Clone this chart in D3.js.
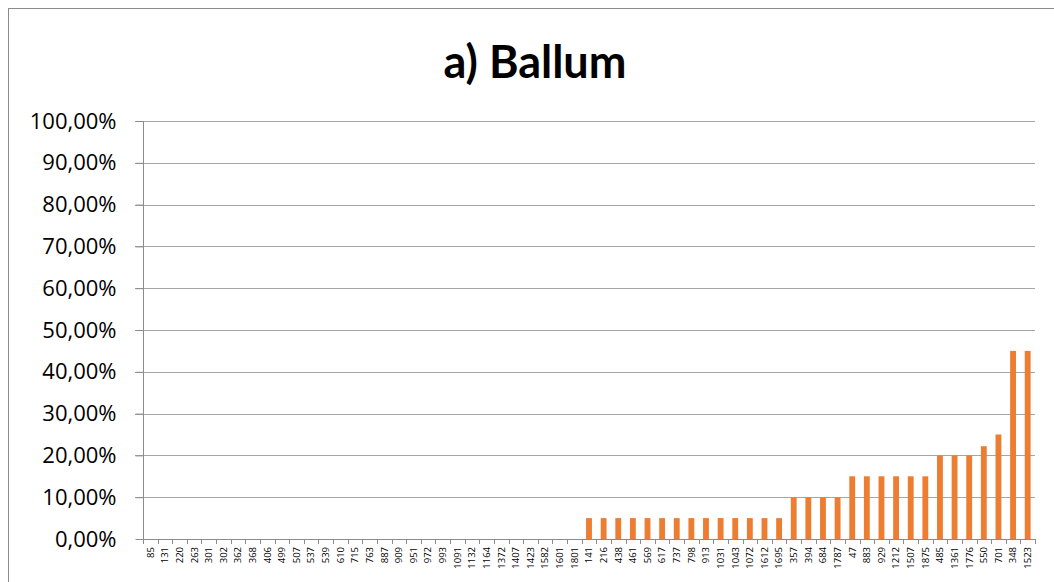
<!DOCTYPE html>
<html><head><meta charset="utf-8">
<script src="https://cdn.jsdelivr.net/npm/d3@7"></script>
<style>body{margin:0;background:#fff}svg{display:block}</style>
</head><body>
<script>
const categories = ["85","131","220","263","301","302","362","368","406","499","507","537","539","610","715","763","887","909","951","972","993","1091","1132","1164","1372","1407","1423","1582","1601","1801","141","216","438","461","569","617","737","798","913","1031","1043","1072","1612","1695","357","394","684","1787","47","883","929","1212","1507","1875","485","1361","1776","550","701","348","1523"];
const values = [0,0,0,0,0,0,0,0,0,0,0,0,0,0,0,0,0,0,0,0,0,0,0,0,0,0,0,0,0,0,
  0.05,0.05,0.05,0.05,0.05,0.05,0.05,0.05,0.05,0.05,0.05,0.05,0.05,0.05,
  0.10,0.10,0.10,0.10,
  0.15,0.15,0.15,0.15,0.15,0.15,
  0.20,0.20,0.20,0.222,0.25,0.45,0.45];
const yTicks = [0,0.1,0.2,0.3,0.4,0.5,0.6,0.7,0.8,0.9,1.0];
const title = "a) Ballum";

const W=1054,H=582;
const svg=d3.select("body").append("svg").attr("width",W).attr("height",H);
svg.append("rect").attr("x",8.5).attr("y",8.5).attr("width",W).attr("height",H).attr("fill","#fff").attr("stroke","#8c8c8c").attr("stroke-width",1);

const m={l:143,r:1035,t:121,b:539};
const x=d3.scaleBand().domain(categories).range([m.l,m.r]).paddingInner(0.6).paddingOuter(0.3);
const xb=d3.scaleBand().domain(categories).range([m.l,m.r]);
const y=d3.scaleLinear().domain([0,1]).range([m.b,m.t]);

svg.append("text").attr("x",535).attr("y",78).attr("text-anchor","middle")
 .attr("font-family","Lato, 'Open Sans', sans-serif").attr("font-weight","bold").attr("font-size",45).attr("fill","#000").text(title);

// gridlines
svg.append("g").selectAll("line").data(yTicks.filter(d=>d>0)).join("line")
 .attr("x1",m.l-8).attr("x2",m.r).attr("y1",d=>Math.round(y(d))+0.5).attr("y2",d=>Math.round(y(d))+0.5)
 .attr("stroke","#a6a6a6").attr("stroke-width",1);

// y axis
const ya=svg.append("g").attr("transform",`translate(${m.l+0.5},0)`)
 .call(d3.axisLeft(y).tickValues(yTicks).tickSize(8).tickPadding(19).tickFormat(d=>d3.format(".2f")(d*100).replace(".",",")+"%"));
ya.select(".domain").attr("stroke","#8c8c8c").attr("d",`M0,${m.t}V${m.b}`);
ya.selectAll(".tick line").attr("stroke","#8c8c8c");
ya.selectAll("text").attr("font-family","'Open Sans', Lato, sans-serif").attr("font-size",22).attr("fill","#000");

// bars
svg.append("g").selectAll("rect").data(values).join("rect")
 .attr("x",(d,i)=>x(categories[i])).attr("width",x.bandwidth())
 .attr("y",d=>y(d)).attr("height",d=>y(0)-y(d)).attr("fill","#ed7d31");

// x axis
const xa=svg.append("g").attr("transform",`translate(0,${m.b})`)
 .call(d3.axisBottom(x).tickSize(0).tickPadding(6));
xa.select(".domain").attr("d",`M${m.l},0.5H${m.r}`).attr("stroke","#8c8c8c");
xa.selectAll("text").attr("font-family","'Open Sans', sans-serif").attr("font-size",9.5).attr("fill","#000")
 .attr("transform","rotate(-90)").attr("text-anchor","end").attr("dy","0.35em").attr("x",-8).attr("y",0);
const tickPos=categories.map(c=>xb(c)).concat([m.r]);
svg.append("g").selectAll("line").data(tickPos).join("line")
 .attr("x1",d=>Math.round(d)+0.5).attr("x2",d=>Math.round(d)+0.5).attr("y1",m.b).attr("y2",m.b+5)
 .attr("stroke","#8c8c8c");
</script>
</body></html>
